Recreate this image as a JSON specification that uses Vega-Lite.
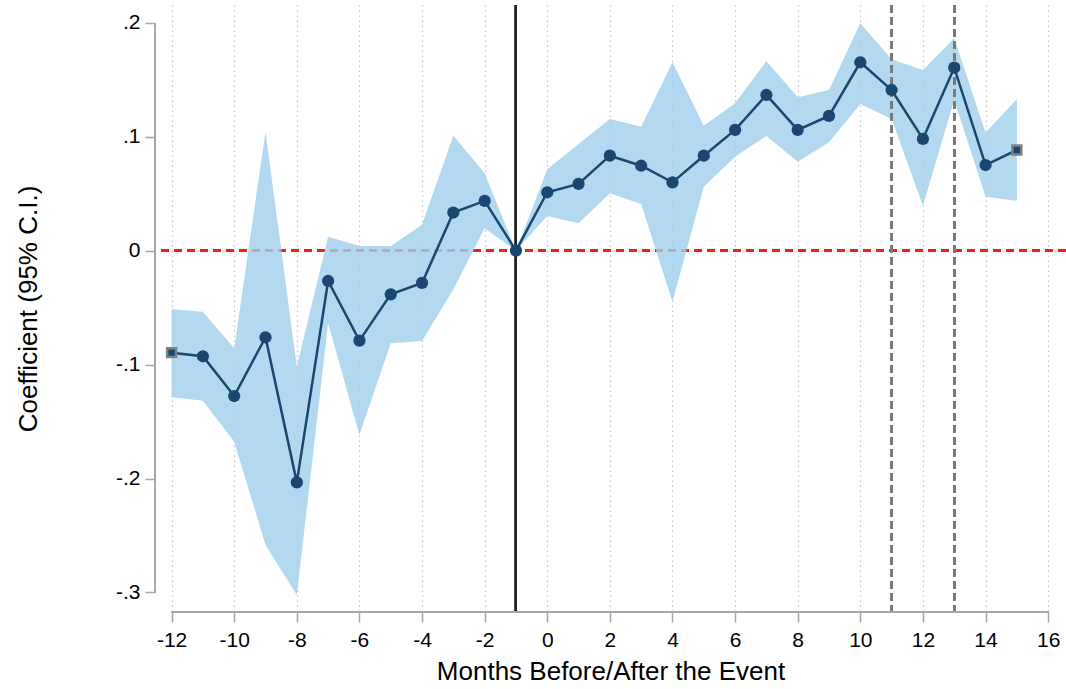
{
  "$schema": "https://vega.github.io/schema/vega-lite/v6.json",
  "autosize": "none",
  "width": 911,
  "height": 607,
  "padding": {"left": 155, "top": 5, "right": 0, "bottom": 77},
  "background": "white",
  "config": {
    "view": {"stroke": null},
    "font": "Liberation Sans",
    "axis": {
      "labelFont": "Liberation Sans",
      "titleFont": "Liberation Sans",
      "labelColor": "#000000",
      "titleColor": "#000000",
      "titleFontWeight": "normal",
      "domain": false,
      "tickColor": "#a6a6a6",
      "tickWidth": 1.5,
      "tickSize": 10,
      "gridColor": "#c4c4c4",
      "gridDash": [1.5, 3.5],
      "gridWidth": 1.2
    }
  },
  "data": {
    "values": [
      {"m": -12, "b": -0.0895, "lo": -0.1287, "hi": -0.0515, "end": true},
      {"m": -11, "b": -0.0927, "lo": -0.1317, "hi": -0.0535, "end": false},
      {"m": -10, "b": -0.1276, "lo": -0.1677, "hi": -0.0857, "end": false},
      {"m": -9, "b": -0.0760, "lo": -0.2584, "hi": 0.1045, "end": false},
      {"m": -8, "b": -0.2034, "lo": -0.3023, "hi": -0.1018, "end": false},
      {"m": -7, "b": -0.0266, "lo": -0.0637, "hi": 0.0123, "end": false},
      {"m": -6, "b": -0.0790, "lo": -0.1618, "hi": 0.0041, "end": false},
      {"m": -5, "b": -0.0383, "lo": -0.0813, "hi": 0.0041, "end": false},
      {"m": -4, "b": -0.0283, "lo": -0.0793, "hi": 0.0228, "end": false},
      {"m": -3, "b": 0.0335, "lo": -0.0340, "hi": 0.1012, "end": false},
      {"m": -2, "b": 0.0437, "lo": 0.0197, "hi": 0.0680, "end": false},
      {"m": -1, "b": 0.0, "lo": 0.0, "hi": 0.0, "end": false},
      {"m": 0, "b": 0.0513, "lo": 0.0305, "hi": 0.0715, "end": false},
      {"m": 1, "b": 0.0586, "lo": 0.0240, "hi": 0.0937, "end": false},
      {"m": 2, "b": 0.0834, "lo": 0.0504, "hi": 0.1156, "end": false},
      {"m": 3, "b": 0.0746, "lo": 0.0410, "hi": 0.1089, "end": false},
      {"m": 4, "b": 0.0600, "lo": -0.0448, "hi": 0.1654, "end": false},
      {"m": 5, "b": 0.0834, "lo": 0.0562, "hi": 0.1097, "end": false},
      {"m": 6, "b": 0.1060, "lo": 0.0825, "hi": 0.1294, "end": false},
      {"m": 7, "b": 0.1367, "lo": 0.1007, "hi": 0.1665, "end": false},
      {"m": 8, "b": 0.1060, "lo": 0.0781, "hi": 0.1347, "end": false},
      {"m": 9, "b": 0.1183, "lo": 0.0952, "hi": 0.1411, "end": false},
      {"m": 10, "b": 0.1654, "lo": 0.1288, "hi": 0.1997, "end": false},
      {"m": 11, "b": 0.1411, "lo": 0.1156, "hi": 0.1680, "end": false},
      {"m": 12, "b": 0.0981, "lo": 0.0395, "hi": 0.1586, "end": false},
      {"m": 13, "b": 0.1607, "lo": 0.1323, "hi": 0.1865, "end": false},
      {"m": 14, "b": 0.0752, "lo": 0.0474, "hi": 0.1036, "end": false},
      {"m": 15, "b": 0.0884, "lo": 0.0439, "hi": 0.1332, "end": true}
    ]
  },
  "encoding": {
    "x": {
      "field": "m",
      "type": "quantitative",
      "scale": {"domain": [-12.53, 16.57], "nice": false, "zero": false},
      "axis": {
        "title": "Months Before/After the Event",
        "values": [-12, -10, -8, -6, -4, -2, 0, 2, 4, 6, 8, 10, 12, 14, 16],
        "labelFontSize": 21,
        "labelPadding": 7,
        "titleFontSize": 26,
        "titlePadding": 8,
        "labelFlush": false,
        "labelExpr": "datum.value < 0 ? '-' + abs(datum.value) : '' + datum.value"
      }
    },
    "y": {
      "type": "quantitative",
      "scale": {"domain": [-0.3172, 0.2157], "nice": false, "zero": false},
      "axis": {
        "title": "Coefficient (95% C.I.)",
        "values": [-0.3, -0.2, -0.1, 0, 0.1, 0.2],
        "labelFontSize": 21,
        "labelPadding": 5,
        "titleFontSize": 26,
        "titlePadding": 74,
        "labelFlush": false,
        "labelExpr": "datum.value == 0 ? '0' : (datum.value < 0 ? '-' : '') + '.' + round(abs(datum.value) * 10)"
      }
    }
  },
  "layer": [
    {
      "mark": {"type": "rule", "color": "#ff1a1a", "strokeWidth": 1.8, "strokeDash": [8, 5]},
      "encoding": {"x": null, "y": {"datum": 0, "type": "quantitative"}}
    },
    {
      "mark": {"type": "area", "color": "#a0d0ec", "opacity": 0.8, "interpolate": "linear"},
      "encoding": {
        "y": {"field": "lo", "type": "quantitative"},
        "y2": {"field": "hi"}
      }
    },
    {
      "mark": {"type": "rule", "color": "#7a7a7a", "strokeWidth": 2, "strokeDash": [8, 4]},
      "encoding": {"x": {"datum": 11, "type": "quantitative"}, "y": null}
    },
    {
      "mark": {"type": "rule", "color": "#7a7a7a", "strokeWidth": 2, "strokeDash": [8, 4]},
      "encoding": {"x": {"datum": 13, "type": "quantitative"}, "y": null}
    },
    {
      "mark": {"type": "rule", "color": "#222222", "strokeWidth": 2},
      "encoding": {"x": {"datum": -1, "type": "quantitative"}, "y": null}
    },
    {
      "mark": {"type": "rule", "color": "#a6a6a6", "strokeWidth": 1.5},
      "encoding": {
        "x": {"datum": -12, "type": "quantitative"},
        "x2": {"datum": 16},
        "y": {"datum": -0.3172, "type": "quantitative"}
      }
    },
    {
      "mark": {"type": "rule", "color": "#a6a6a6", "strokeWidth": 1.5},
      "encoding": {
        "x": {"datum": -12.53, "type": "quantitative"},
        "y": {"datum": -0.3, "type": "quantitative"},
        "y2": {"datum": 0.2}
      }
    },
    {
      "mark": {"type": "line", "color": "#1a476f", "strokeWidth": 2.5},
      "encoding": {"y": {"field": "b", "type": "quantitative"}}
    },
    {
      "transform": [{"filter": "!datum.end"}],
      "mark": {"type": "point", "shape": "circle", "filled": true, "color": "#1a476f", "opacity": 1, "size": 150},
      "encoding": {"y": {"field": "b", "type": "quantitative"}}
    },
    {
      "transform": [{"filter": "datum.end"}],
      "mark": {"type": "point", "shape": "square", "filled": true, "fill": "#1a476f", "stroke": "#808080", "strokeWidth": 2.5, "opacity": 1, "size": 80},
      "encoding": {"y": {"field": "b", "type": "quantitative"}}
    }
  ]
}
